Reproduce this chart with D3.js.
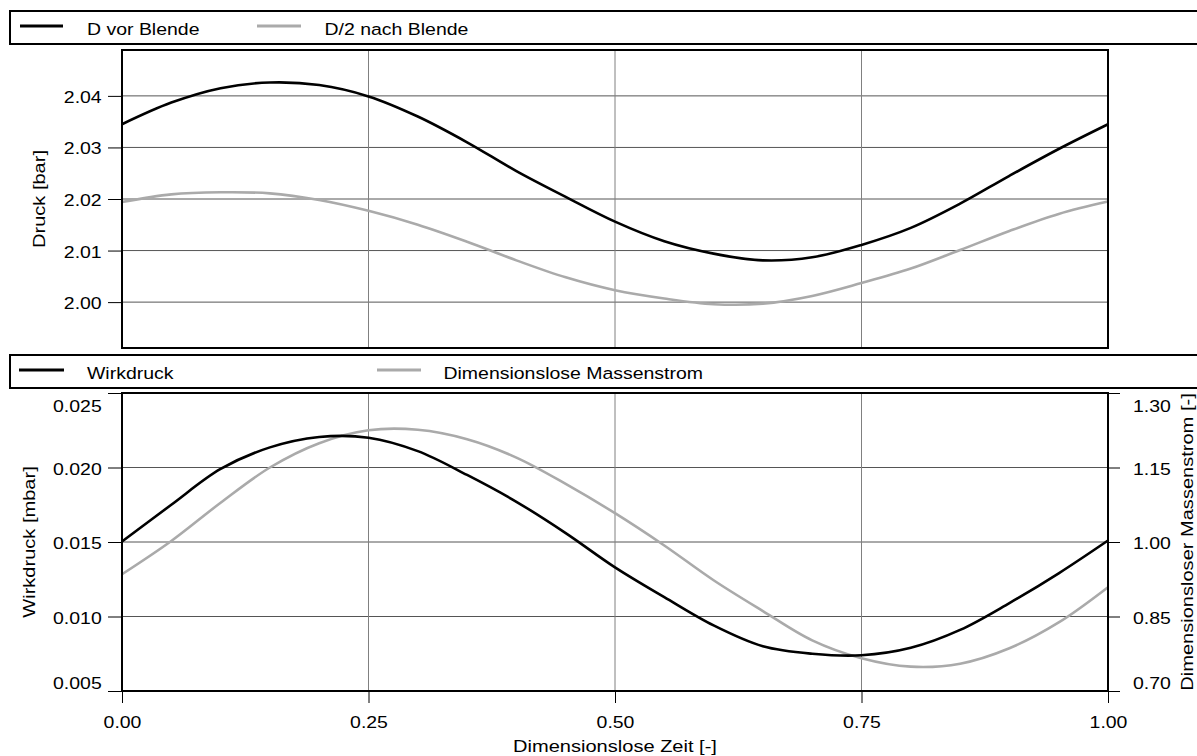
<!DOCTYPE html>
<html><head><meta charset="utf-8">
<script src="https://cdn.jsdelivr.net/npm/d3@7"></script>
<style>
body{margin:0;background:#fff}
svg{display:block}
text{font-family:"Liberation Sans",Arial,Helvetica,sans-serif;font-size:16.5px;fill:#000}
</style>
</head><body>
<svg id="c" width="1197" height="756"></svg>
<script>
// ---- data ----
const zeit = [0,0.05,0.10,0.15,0.20,0.25,0.30,0.35,0.40,0.45,0.50,0.55,0.60,0.65,0.70,0.75,0.80,0.85,0.90,0.95,1.00];
const dVorBlende   = [2.0345,2.0387,2.0415,2.0426,2.0421,2.0399,2.0360,2.0310,2.0254,2.0204,2.0156,2.0118,2.0094,2.0081,2.0087,2.0111,2.0144,2.0191,2.0245,2.0297,2.0345];
const d2NachBlende = [2.0194,2.0209,2.0213,2.0211,2.0198,2.0177,2.0150,2.0117,2.0081,2.0048,2.0023,2.0007,1.9996,1.9997,2.0012,2.0037,2.0065,2.0101,2.0138,2.0171,2.0195];
const wirkdruck    = [0.01503,0.0175,0.0199,0.02135,0.02205,0.0220,0.0211,0.0195,0.0177,0.0156,0.0133,0.0113,0.0094,0.0080,0.0075,0.0074,0.0079,0.0091,0.0109,0.0129,0.0151];
const massenstrom  = [0.935,1.002,1.079,1.150,1.199,1.225,1.226,1.207,1.170,1.117,1.058,0.993,0.923,0.861,0.802,0.766,0.749,0.755,0.786,0.838,0.909];
const xTicks = [0,0.25,0.5,0.75,1];
const druckTicks = [2.00,2.01,2.02,2.03,2.04];
const wirkTicks = [0.005,0.010,0.015,0.020,0.025];
const massTicks = [0.70,0.85,1.00,1.15,1.30];
const legendTop = ["D vor Blende","D/2 nach Blende"];
const legendBottom = ["Wirkdruck","Dimensionslose Massenstrom"];
const xTitle = "Dimensionslose Zeit [-]";
const yTitleTop = "Druck [bar]";
const yTitleBottom = "Wirkdruck [mbar]";
const yTitleRight = "Dimensionsloser Massenstrom [-]";

// ---- layout ----
const SX = 1.18;
const L = 122, R = 1108;
const svg = d3.select("#c");
const x = d3.scaleLinear([0,1],[L,R]);
const yTop = d3.scaleLinear([1.9911,2.0489],[348,50]);
const yWirk = d3.scaleLinear([0.005,0.025],[691,393]);
const yMass = d3.scaleLinear([0.70,1.30],[691,393]);

function txt(g, s, tx, ty, anchor, rot, size){
  const t = g.append("text").text(s).attr("text-anchor",anchor)
    .attr("transform",`translate(${tx},${ty})${rot?" rotate(-90)":""} scale(${SX},1)`);
  if(size) t.style("font-size",size+"px");
  return t;
}

function legend(y0, names, lineX, textX){
  svg.append("rect").attr("x",10).attr("y",y0).attr("width",1220).attr("height",33)
    .attr("fill","#fff").attr("stroke","#000").attr("stroke-width",2);
  const cols = ["#000","#aaa"];
  names.forEach((n,i)=>{
    svg.append("line").attr("x1",lineX[i][0]).attr("x2",lineX[i][1])
      .attr("y1",y0+15).attr("y2",y0+15).attr("stroke",cols[i]).attr("stroke-width",3);
    txt(svg, n, textX[i], y0+24, "start", false);
  });
}

function grid(yS, ticks, top, bottom){
  const g = svg.append("g");
  g.selectAll("line.h").data(ticks).join("line")
    .attr("x1",L).attr("x2",R).attr("y1",d=>yS(d)).attr("y2",d=>yS(d))
    .attr("stroke","#555").attr("stroke-width",1);
  g.selectAll("line.v").data(xTicks.slice(1,-1)).join("line")
    .attr("x1",d=>x(d)).attr("x2",d=>x(d)).attr("y1",top).attr("y2",bottom)
    .attr("stroke","#808080").attr("stroke-width",1);
}

function leftAxis(yS, ticks, fmt){
  const g = svg.append("g").attr("transform",`translate(${L},0)`)
    .call(d3.axisLeft(yS).tickValues(ticks).tickSize(14).tickFormat(d3.format(fmt)));
  g.select(".domain").remove();
  g.selectAll(".tick line").attr("stroke","#000");
  const [d0,d1] = yS.domain();
  g.selectAll(".tick text").each(function(d){
    const off = Math.abs(d-d1)<1e-9 ? 18.4 : (Math.abs(d-d0)<1e-9 ? -2.7 : 6.5);
    d3.select(this).attr("x",null).attr("dy",null).attr("fill","#000")
      .attr("text-anchor","end").style("font-size","16.5px")
      .attr("transform",`translate(-20.3,${off}) scale(${SX},1)`);
  });
}
function rightAxis(yS, ticks, fmt){
  const g = svg.append("g").attr("transform",`translate(${R},0)`)
    .call(d3.axisRight(yS).tickValues(ticks).tickSize(12).tickFormat(d3.format(fmt)));
  g.select(".domain").remove();
  g.selectAll(".tick line").attr("stroke","#000");
  const [d0,d1] = yS.domain();
  g.selectAll(".tick text").each(function(d){
    const off = Math.abs(d-d1)<1e-9 ? 18.4 : (Math.abs(d-d0)<1e-9 ? -2.7 : 6.5);
    d3.select(this).attr("x",null).attr("dy",null).attr("fill","#000")
      .attr("text-anchor","start").style("font-size","16.5px")
      .attr("transform",`translate(25,${off}) scale(${SX},1)`);
  });
}

function curve(yS, vals, color){
  const line = d3.line().x((d,i)=>x(zeit[i])).y(d=>yS(d)).curve(d3.curveCatmullRom.alpha(0.5));
  svg.append("path").datum(vals).attr("d",line).attr("fill","none")
    .attr("stroke",color).attr("stroke-width",2.6).attr("stroke-linejoin","round");
}

// ---- top chart ----
legend(11, legendTop, [[20,63],[257,301]], [87,324.5]);
grid(yTop, druckTicks, 50, 348);
leftAxis(yTop, druckTicks, ".2f");
curve(yTop, d2NachBlende, "#aaa");
curve(yTop, dVorBlende, "#000");
svg.append("rect").attr("x",L).attr("y",50).attr("width",R-L).attr("height",298)
  .attr("fill","none").attr("stroke","#000").attr("stroke-width",2);
txt(svg, yTitleTop, 45, 199, "middle", true, 17);

// ---- bottom chart ----
legend(355, legendBottom, [[19,64],[377,421]], [87,443.5]);
grid(yWirk, wirkTicks.slice(1,-1), 393, 691);
leftAxis(yWirk, wirkTicks, ".3f");
rightAxis(yMass, massTicks, ".2f");
const xa = svg.append("g").attr("transform","translate(0,691)")
  .call(d3.axisBottom(x).tickValues(xTicks).tickSize(12).tickFormat(d3.format(".2f")));
xa.select(".domain").remove();
xa.selectAll(".tick line").attr("stroke","#000");
xa.selectAll(".tick text").attr("y",null).attr("dy",null).attr("fill","#000")
  .attr("text-anchor","middle").style("font-size","16.5px")
  .attr("transform",`translate(0,37) scale(${SX},1)`);
curve(yMass, massenstrom, "#aaa");
curve(yWirk, wirkdruck, "#000");
svg.append("rect").attr("x",L).attr("y",393).attr("width",R-L).attr("height",298)
  .attr("fill","none").attr("stroke","#000").attr("stroke-width",2);
txt(svg, yTitleBottom, 34.5, 542, "middle", true, 17);
txt(svg, yTitleRight, 1193, 542, "middle", true, 17);
txt(svg, xTitle, 615, 752, "middle", false, 17);
</script>
</body></html>
